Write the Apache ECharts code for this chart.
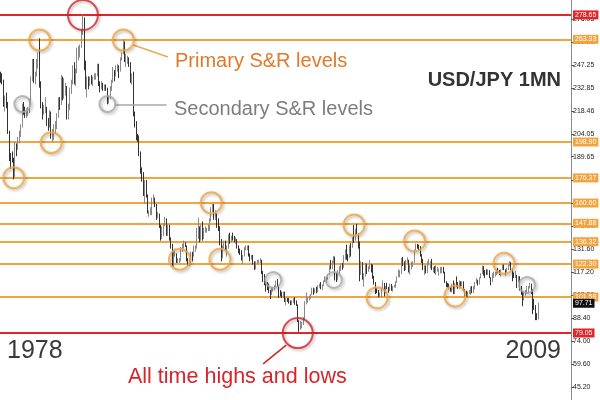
<!DOCTYPE html>
<html><head><meta charset="utf-8">
<script src="https://cdn.jsdelivr.net/npm/echarts@6/dist/echarts.min.js"></script>
<style>html,body{margin:0;padding:0;background:#fff}#c{width:600px;height:400px}</style>
</head><body><div id="c"></div>
<script>
// Monthly USD/JPY bars, Jan 1978 .. Feb 2009 (one line per year)
const opens = [
240,238,236,223,224,223,205,190,189,188,177,197,
195,201,203,209,220,219,217,217,219,224,239,247,
240,241,249,250,233,223,218,220,220,212,210,217,
203,203,206,210,215,225,223,237,229,231,233,218,
220,231,236,246,237,243,254,257,259,268,275,248,
235,239,234,239,238,239,240,241,247,236,233,235,
232,233,232,225,227,232,237,243,241,246,246,244,
251,254,260,251,251,251,248,237,238,216,211,202,
200,192,180,179,167,172,165,154,154,154,162,163,
160,153,153,146,140,144,147,150,142,146,138,133,
122,127,128,124,124.5,125,132,133,135,134,125,122,
125,129,127,133,133,143,144,137,145,139,143,143,
144,145,150,158,159,152,152,147,144,138,130,133,
135.5,131,133,141,137,139,138,137,137,133,131,130,
125,127,133,133,133,128,125.5,127,123,119.5,123,124.5,
124.8,124.9,117.5,115.5,111,107,106.5,105,104.5,105.5,108,109,
111.9,108.7,104.6,102.8,102,104.5,98.5,100,99.5,98.5,97,98.8,
99.7,99,96.5,86.5,84,84.5,84.8,88.4,97.5,99.8,101.8,101.8,
103.5,107,104.6,106.5,104.6,108.6,109.7,106.8,108.6,111.5,114,113.6,
115.9,121.3,120.1,124.1,126.9,116.6,114.6,118.4,121,121,120.3,127.8,
130.6,127.2,126.3,133.2,132.8,138.8,138.5,144.2,141.2,136.2,116,123.3,
113.1,116,119,118.6,119.5,121.3,120.7,114.6,110.3,106,104.2,102.2,
102.2,107.3,110,105.4,108.1,107.8,106.2,109.6,106.7,108.3,108.9,111,
114.4,116.4,117.3,126.1,123.7,118.8,124.5,125,118.9,119.4,122.5,123.9,
131,134.6,133.5,132.7,128.5,124,119.5,120,118.5,121.8,122.5,122.5,
118.8,119.9,118,118,119,119.3,119.8,120.5,116.8,111.4,109.9,109.5,
107.2,105.8,109.1,104.2,110.4,109.5,108.8,111.5,109.9,110.1,105.8,103.1,
102.6,103.6,104.6,107.2,104.8,108.4,110.9,112.4,111.5,113.4,116.4,119.8,
117.8,117.2,115.8,117.8,113.8,112.6,114.4,114.6,117.4,118.1,116.9,115.8,
119,121,118.5,117.8,119.5,121.7,123.2,119,115.8,114.9,115.3,111.2,
111.7,106.4,103.7,99.7,104,105.5,106.2,108.1,108.8,106.1,98.5,95.3,
90.6,89.9
];
const highs = [
243,242,238,228,230,224,206,192,193,189,199,198,
202,206,210,223,224,221,220,221,226,240,251,251,
243,251,255,264,237,224,222,227,221,214,219,218,
207,210,212,217,227,227,241,240,239,236,234,223,
233,238,247,249,245,258,259,260,270,278.6,277,250,
240,240,240,241,240,242,242,248,248,237,237,236,
235,235,233,228,234,238,246,244,247,248,247,252,
255,263.5,262,254,253,252,249,242,243,218,212,204,
203,193,183,180,175,175,166,156,158,164,166,164,
160,155,154,147,146,148,152,151,147,147,139,135,
131,132,129,126,126,133,135,137,136,134,126,126,
130,130,134,134,145,151.5,146,147,149,145,146,145,
147,151,158,160.3,160,156,154,151,146,138,134,137,
137,134,141,142,140,142,140,139,138,134,132,131,
128,133,134,134,134,129,128,128,124,124,125,125,
126,125,118,116,111.5,111,110,106,108,108,109,112,
113,109,106,105,105,105,101,101,101,99.5,99.5,101,
101.5,99.5,97,87,86.5,86,89,99,104.5,101.5,102.5,103.5,
107.5,107.5,107,108,109,110,111,109.5,112,114.5,114,116,
121.5,124.8,124.5,127.5,127,117,118.5,121,122.7,123,128,131.5,
134.5,128.5,134,135.5,139,146.8,144.5,147.6,141.5,136.5,124,123.5,
116.5,123,122.5,121,124.8,122.5,122,115,111,107,106,104.5,
107.5,112,110.5,108.5,110.5,108,110,109.8,108.5,109.3,111.5,114.5,
119,118.5,126.2,126.8,124,125,126.5,125,122,123.8,124,131.5,
135.2,135,134.5,133.5,128.5,125.5,121.5,121.5,124,125.6,124,125.5,
120.5,121,121.5,120.5,119.5,120.5,120.7,120.5,117.5,111.5,110.5,110,
107.5,110,112,110.5,114.5,111,112,111.5,111.5,111.5,106.5,105.5,
105,106,108,108.5,108.5,111,113.5,112.5,114,116.5,121.4,121,
118.5,119,119,118.5,114,116.5,117.5,117.5,118.3,119.9,118.5,119,
122,122,119,120,122,124.1,123.5,119.5,117,117.9,115.5,114.7,
114.7,108.5,105,105,106,108.5,108.5,110.6,110,106.5,100.5,96.5,
91.5,98
];
const lows = [
236,235,221,218,220,204,187,182,186,175.5,177,190,
194,198,202,208,216,214,214,215,217,222,237,236,
235,240,245,233,220,213,216,217,209,206,208,201,
199,200,204,207,214,219,222,225,226,228,213,213,
219,229,235,235,234,242,250,252,258,266,244,232,
227,232,234,235,234,238,238,240,234,230,232,231,
231,231,222.5,223,226,231,236,237,240,243,239,243,
250,254,249,246,248,246,236,235,215,208,200,199,
190,179,174,165,160,164,154,152,153,153,160,158,
150,151,145,137,138,140,146,140,140,137,132,121,
120.5,127,123,123,123,124,130,132,133,124,121,121,
123,124,127,130,132,138,136,137,137,138,142,142,
143,143,149,155,150,150,145,143,134,124,126,132,
131,127,132,135,136,137,136,135,132,129,128,124.5,
122,127,131,131,127,124,125,122,118.6,119,122.5,123,
123,116,111,109,105,106,104,100.4,103,105,106,108,
108,101,102,101,101,98.5,96.5,98.5,97.5,96.5,96.5,98,
96.7,96,86,79.75,81,82,84,87,97,98,99.5,100.5,
103,103,104,104,104.5,107.5,106.5,106,108.5,111,110.5,112.5,
115.5,119,119,122.5,112,111,112,115.5,118,118.8,120,125,
125,124,126,127,132.5,135.5,137,141,132,111.5,115.5,112.5,
108,114.5,116,117.5,119,117,113,109.5,103.5,104,101.5,101.3,
101.3,106.5,102,104,106.5,104.3,105.5,105.5,105,107.5,107.5,110.5,
114,114,116,121,118,118.5,123,117,115.8,119,120.5,123,
131,132,131,127,123,118.5,115.5,116.5,116.5,121.5,119.5,118.5,
117,116.5,115.5,117.5,115,116.5,116.5,116.5,110.5,107.8,107.5,106.5,
105,104.5,103.4,103.5,108,106.8,107,108,108.5,105.5,102,101.8,
101.7,103.5,103,104,104,106.5,110,108.8,109.5,113.3,116,115,
113.5,115.5,115.5,113.5,108.9,111,113.5,114.5,115.5,116.5,115.5,114.5,
118.5,118.5,115.2,117,118.5,121,118.5,111.5,113.5,113.5,107.3,110.5,
105.7,103,95.8,99.5,102.5,103.5,104,107,103.5,90.9,93.5,87.1,
87.1,87.5
];
const closes = [
238,236,223,224,223,205,190,189,188,177,197,195,
201,203,209,220,219,217,217,219,224,239,247,240,
241,249,250,233,223,218,220,220,212,210,217,203,
203,206,210,215,225,223,237,229,231,233,218,220,
231,236,246,237,243,254,257,259,268,275,248,235,
239,234,239,238,239,240,241,247,236,233,235,232,
233,232,225,227,232,237,243,241,246,246,244,251,
254,260,251,251,251,248,237,238,216,211,202,200,
192,180,179,167,172,165,154,154,154,162,163,160,
153,153,146,140,144,147,150,142,146,138,133,122,
127,128,124,124.5,125,132,133,135,134,125,122,125,
129,127,133,133,143,144,137,145,139,143,143,144,
145,150,158,159,152,152,147,144,138,130,133,135.5,
131,133,141,137,139,138,137,137,133,131,130,125,
127,133,133,133,128,125.5,127,123,119.5,123,124.5,124.8,
124.9,117.5,115.5,111,107,106.5,105,104.5,105.5,108,109,111.9,
108.7,104.6,102.8,102,104.5,98.5,100,99.5,98.5,97,98.8,99.7,
99,96.5,86.5,84,84.5,84.8,88.4,97.5,99.8,101.8,101.8,103.5,
107,104.6,106.5,104.6,108.6,109.7,106.8,108.6,111.5,114,113.6,115.9,
121.3,120.1,124.1,126.9,116.6,114.6,118.4,121,121,120.3,127.8,130.6,
127.2,126.3,133.2,132.8,138.8,138.5,144.2,141.2,136.2,116,123.3,113.1,
116,119,118.6,119.5,121.3,120.7,114.6,110.3,106,104.2,102.2,102.2,
107.3,110,105.4,108.1,107.8,106.2,109.6,106.7,108.3,108.9,111,114.4,
116.4,117.3,126.1,123.7,118.8,124.5,125,118.9,119.4,122.5,123.9,131,
134.6,133.5,132.7,128.5,124,119.5,120,118.5,121.8,122.5,122.5,118.8,
119.9,118,118,119,119.3,119.8,120.5,116.8,111.4,109.9,109.5,107.2,
105.8,109.1,104.2,110.4,109.5,108.8,111.5,109.9,110.1,105.8,103.1,102.6,
103.6,104.6,107.2,104.8,108.4,110.9,112.4,111.5,113.4,116.4,119.8,117.8,
117.2,115.8,117.8,113.8,112.6,114.4,114.6,117.4,118.1,116.9,115.8,119,
121,118.5,117.8,119.5,121.7,123.2,119,115.8,114.9,115.3,111.2,111.7,
106.4,103.7,99.7,104,105.5,106.2,108.1,108.8,106.1,98.5,95.3,90.6,
89.9,97.7
];

// Axis span (months), levels, tick labels and annotation points
const firstYear = 1978, lastAxisYear = 2010;
const extremeLevels = [278.65, 79.05];
const primaryLevels = [263.33, 198.90, 176.37, 160.60, 147.88, 136.32, 122.30, 101.58];
const lastPrice = 97.71;
const tickValues = [45.20, 59.60, 74.00, 88.40, 102.80, 117.20, 131.60, 146.00, 160.40, 174.80,
                    189.65, 204.05, 218.46, 232.85, 247.25, 261.65, 276.05];
const primaryCircles = [['1978-10',176.5],['1980-04',262.9],['1980-12',198.5],['1985-02',262.9],
  ['1988-05',125.3],['1990-03',160.8],['1990-09',125.3],['1998-06',146.8],['1999-10',101.2],
  ['2001-12',136.8],['2004-04',102.3],['2007-02',122.8]];
const secondaryCircles = [['1979-04',222.7],['1984-03',222.7],['1993-10',112.3],['1997-04',112.3],['2008-06',109.2]];
const extremeCircles = [['1982-10',278.6],['1995-03',79.0]];
const primaryPointer = [['1985-09',259.8],['1987-09',252.2]];
const secondaryPointer = [['1984-08',222.1],['1987-08',222.1]];
const extremePointer = [['1994-07',71.5],['1993-03',59.6]];

const months = [];
for (let y = firstYear; y <= lastAxisYear; y++)
  for (let m = 1; m <= 12; m++) months.push(y + '-' + String(m).padStart(2, '0'));
const candles = opens.map((o, i) => [o, closes[i], lows[i], highs[i]]);

const ORANGE = '#f3a43e', RED = '#e2252b', GREY = '#a9a9a9';
const FONT = '"Liberation Sans", Arial, sans-serif';

function levelLine(v, color, bg) {
  return {
    yAxis: v,
    lineStyle: { color: color, width: 2, type: 'solid' },
    label: { show: true, position: 'end', distance: 2, formatter: v.toFixed(2),
      backgroundColor: bg, color: '#fff', fontSize: 7, fontFamily: FONT,
      padding: [1, 2, 0, 2], lineHeight: 8 }
  };
}
const levelData = [
  ...extremeLevels.map(v => levelLine(v, RED, RED)),
  ...primaryLevels.map(v => levelLine(v, ORANGE, ORANGE)),
  levelLine(lastPrice, 'rgba(0,0,0,0)', '#111')
];

function circleSeries(data, color, size) {
  return {
    type: 'scatter', data: data, symbol: 'circle', symbolSize: size, z: 5, silent: true,
    itemStyle: { color: 'rgba(0,0,0,0)', borderColor: color, borderWidth: 2,
      shadowColor: 'rgba(0,0,0,0.35)', shadowBlur: 3, shadowOffsetX: 1.5, shadowOffsetY: 1.5 }
  };
}
function pointer(pts, color) {
  return { silent: true, symbol: 'none', animation: false, label: { show: false },
    lineStyle: { color: color, width: 1.6, type: 'solid' },
    data: [[{ coord: pts[0] }, { coord: pts[1] }]] };
}

const chart = echarts.init(document.getElementById('c'), null, { renderer: 'canvas' });
const primS = circleSeries(primaryCircles, ORANGE, 21);
primS.markLine = pointer(primaryPointer, '#f0a851');
const secS = circleSeries(secondaryCircles, GREY, 16);
secS.markLine = pointer(secondaryPointer, '#a8a8a8');
const extS = circleSeries(extremeCircles, '#d4262c', 30);
extS.markLine = pointer(extremePointer, '#d4262c');

chart.setOption({
  animation: false,
  backgroundColor: '#ffffff',
  grid: { left: 0, right: 29, top: 0, bottom: 0 },
  xAxis: { type: 'category', data: months, show: false, boundaryGap: true },
  yAxis: {
    type: 'value', position: 'right', min: 37, max: 288, scale: true,
    splitLine: { show: false },
    axisLine: { show: true, lineStyle: { color: '#8a8a8a', width: 1 } },
    axisTick: { show: true, length: 3, customValues: tickValues, lineStyle: { color: '#555' } },
    axisLabel: { show: true, customValues: tickValues, fontSize: 7, fontFamily: FONT, color: '#222', margin: 2,
      formatter: v => Number(v).toFixed(2) }
  },
  series: [
    {
      type: 'candlestick', data: candles, barWidth: 1, z: 2,
      itemStyle: { color: '#8a8a8a', color0: '#333333', borderColor: '#8a8a8a', borderColor0: '#333333', borderWidth: 1 },
      markLine: { silent: true, symbol: 'none', animation: false, z: 1, data: levelData }
    },
    primS, secS, extS
  ],
  graphic: [
    { type: 'text', style: { text: 'Primary S&R levels', x: 175, y: 61, font: '20px ' + FONT, fill: '#e07a26', textVerticalAlign: 'middle', verticalAlign: 'middle' } },
    { type: 'text', style: { text: 'Secondary S&R levels', x: 174, y: 109, font: '20px ' + FONT, fill: '#7d7d7d', textVerticalAlign: 'middle', verticalAlign: 'middle' } },
    { type: 'text', style: { text: 'USD/JPY 1MN', x: 561, y: 80, font: 'bold 20px ' + FONT, fill: '#333', textAlign: 'right', align: 'right', textVerticalAlign: 'middle', verticalAlign: 'middle' } },
    { type: 'text', style: { text: '1978', x: 7, y: 351, font: '25px ' + FONT, fill: '#3a3a3a', textVerticalAlign: 'middle', verticalAlign: 'middle' } },
    { type: 'text', style: { text: '2009', x: 561, y: 351, font: '25px ' + FONT, fill: '#3a3a3a', textAlign: 'right', align: 'right', textVerticalAlign: 'middle', verticalAlign: 'middle' } },
    { type: 'text', style: { text: 'All time highs and lows', x: 128, y: 377, font: '21.5px ' + FONT, fill: '#d4262c', textVerticalAlign: 'middle', verticalAlign: 'middle' } }
  ]
});
</script></body></html>
